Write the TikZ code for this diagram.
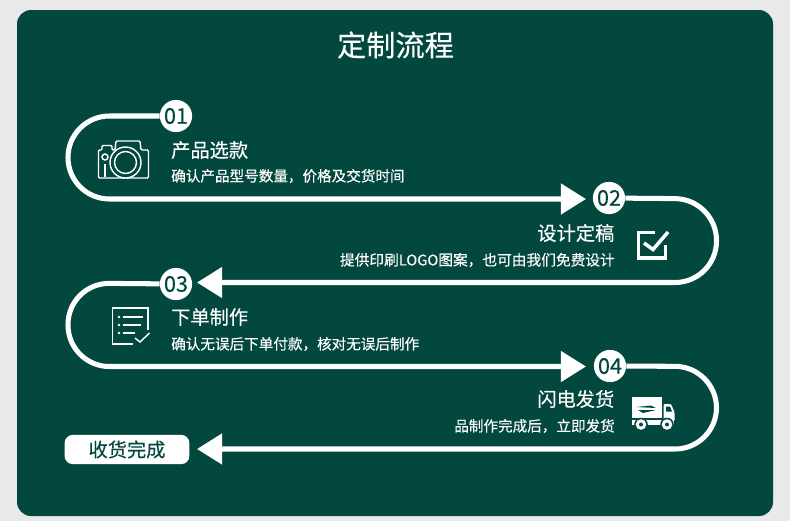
\documentclass[tikz,border=0pt]{standalone}
\usepackage{fontspec}
\setmainfont{Noto Sans CJK SC}[FakeBold=0.25]
\usetikzlibrary{arrows.meta}
\definecolor{panelgreen}{HTML}{03483F}
\definecolor{pagegrey}{HTML}{E9E9E9}
\tikzset{
  flowline/.style={draw=white,line width=4.3pt,rounded corners=35.4pt,-{Triangle[length=21.5pt,width=25.6pt]}},
  numdot/.style={circle,fill=white,text=panelgreen,minimum size=27.5pt,inner sep=0pt,font=\fontsize{18.5}{18.5}\selectfont},
  steptitle/.style={text=white,inner sep=0pt,font=\fontsize{16.4}{16.4}\selectfont},
  stepnote/.style={text=white,inner sep=0pt,font=\fontsize{12.45}{12.45}\selectfont},
  iconline/.style={draw=white,line width=1.2pt},
}
\begin{document}
\begin{tikzpicture}[x=0.03cm,y=-0.03cm]
\useasboundingbox (0,0) rectangle (790,521);
\fill[pagegrey] (0,0) rectangle (790,521);
\fill[panelgreen,rounded corners=12pt] (17,10) rectangle (773,516);
\node[text=white,inner sep=0pt,font=\fontsize{24.9}{24.9}\selectfont] (title) at (395.5,45) {定制流程};

\node[numdot] (num1) at (176,116) {01};
\node[numdot] (num2) at (609,198) {02};
\node[numdot] (num3) at (176,284) {03};
\node[numdot] (num4) at (610,366) {04};
\node[fill=white,text=panelgreen,rounded corners=7pt,minimum width=106.5pt,minimum height=25pt,inner sep=0pt,font=\fontsize{16.4}{16.4}\selectfont] (done) at (127,449.5) {收货完成};

\coordinate (tip1) at (586,199);
\coordinate (tip2) at (197,282.5);
\coordinate (tip3) at (586,366.5);
\coordinate (tip4) at (197,449);

\draw[flowline] (num1) -- (68,116) -- (68,199) -- (tip1);
\draw[flowline] (num2) -- (716.5,199) -- (716.5,282.5) -- (tip2);
\draw[flowline] (num3) -- (68,283) -- (68,366.5) -- (tip3);
\draw[flowline] (num4) -- (716.5,366.5) -- (716.5,449) -- (tip4);

\node[steptitle,anchor=west] (title1) at (171,150) {产品选款};
\node[stepnote,anchor=west] (note1) at (171,176) {确认产品型号数量，价格及交货时间};
\node[steptitle,anchor=east] (title2) at (614.5,233) {设计定稿};
\node[stepnote,anchor=east,font=\fontsize{12.55}{12.55}\selectfont] (note2) at (615,260) {提供印刷LOGO图案，也可由我们免费设计};
\node[steptitle,anchor=west] (title3) at (171,317) {下单制作};
\node[stepnote,anchor=west] (note3) at (171,344) {确认无误后下单付款，核对无误后制作};
\node[steptitle,anchor=east] (title4) at (614.5,399) {闪电发货};
\node[stepnote,anchor=east] (note4) at (615,426) {品制作完成后，立即发货};

\draw[iconline,rounded corners=1pt] (98.5,178) -- (98.5,150) -- (102,150) -- (102,145.5) -- (112,145.5) -- (112,150) -- (115,150) -- (116,141) -- (140,141) -- (141,150) -- (148.5,150) -- (148.5,178) -- cycle;
\fill[panelgreen] (125.5,162.5) circle (15.5);
\draw[iconline] (125.5,162.5) circle (15.5);
\draw[iconline] (125.5,162.5) circle (11);
\draw[iconline] (105,157) circle (3);
\draw[iconline] (105,164) -- (105,177);

\draw[draw=white,line width=2.6pt] (655,232.5) -- (638.5,232.5) -- (638.5,258) -- (665.5,258) -- (665.5,245);
\draw[draw=white,line width=3pt] (644,243) -- (653,249.5) -- (668,232);

\draw[iconline] (148,330) -- (148,308) -- (112.5,308) -- (112.5,344) -- (133,344);
\draw[iconline] (135,338) -- (140,342) -- (149.5,333);
\fill[white] (119,317) circle (1.4) (119,325) circle (1.4) (119,333) circle (1.4);
\draw[iconline] (123,317) -- (143,317);
\draw[iconline] (123,325) -- (141,325);
\draw[iconline] (123,333) -- (135,333);

\fill[white] (632,397) rectangle (662,418);
\fill[white] (632,419.5) rectangle (674,425);
\fill[white,rounded corners=1pt] (663.5,404) -- (671,404) -- (674.5,412) -- (674.5,421) -- (663.5,421) -- cycle;
\fill[panelgreen] (666,406.5) -- (670,406.5) -- (672,411.5) -- (666,411.5) -- cycle;
\fill[panelgreen] (636,407) -- (651,405.5) -- (656,408) -- cycle;
\fill[panelgreen] (638,410) -- (656,410) -- (643,413) -- cycle;
\foreach \wx in {641,667} {
  \fill[panelgreen] (\wx,424.5) circle (6.8);
  \fill[white] (\wx,424.5) circle (5.3);
  \fill[panelgreen] (\wx,424.5) circle (2);
}
\end{tikzpicture}
\end{document}
